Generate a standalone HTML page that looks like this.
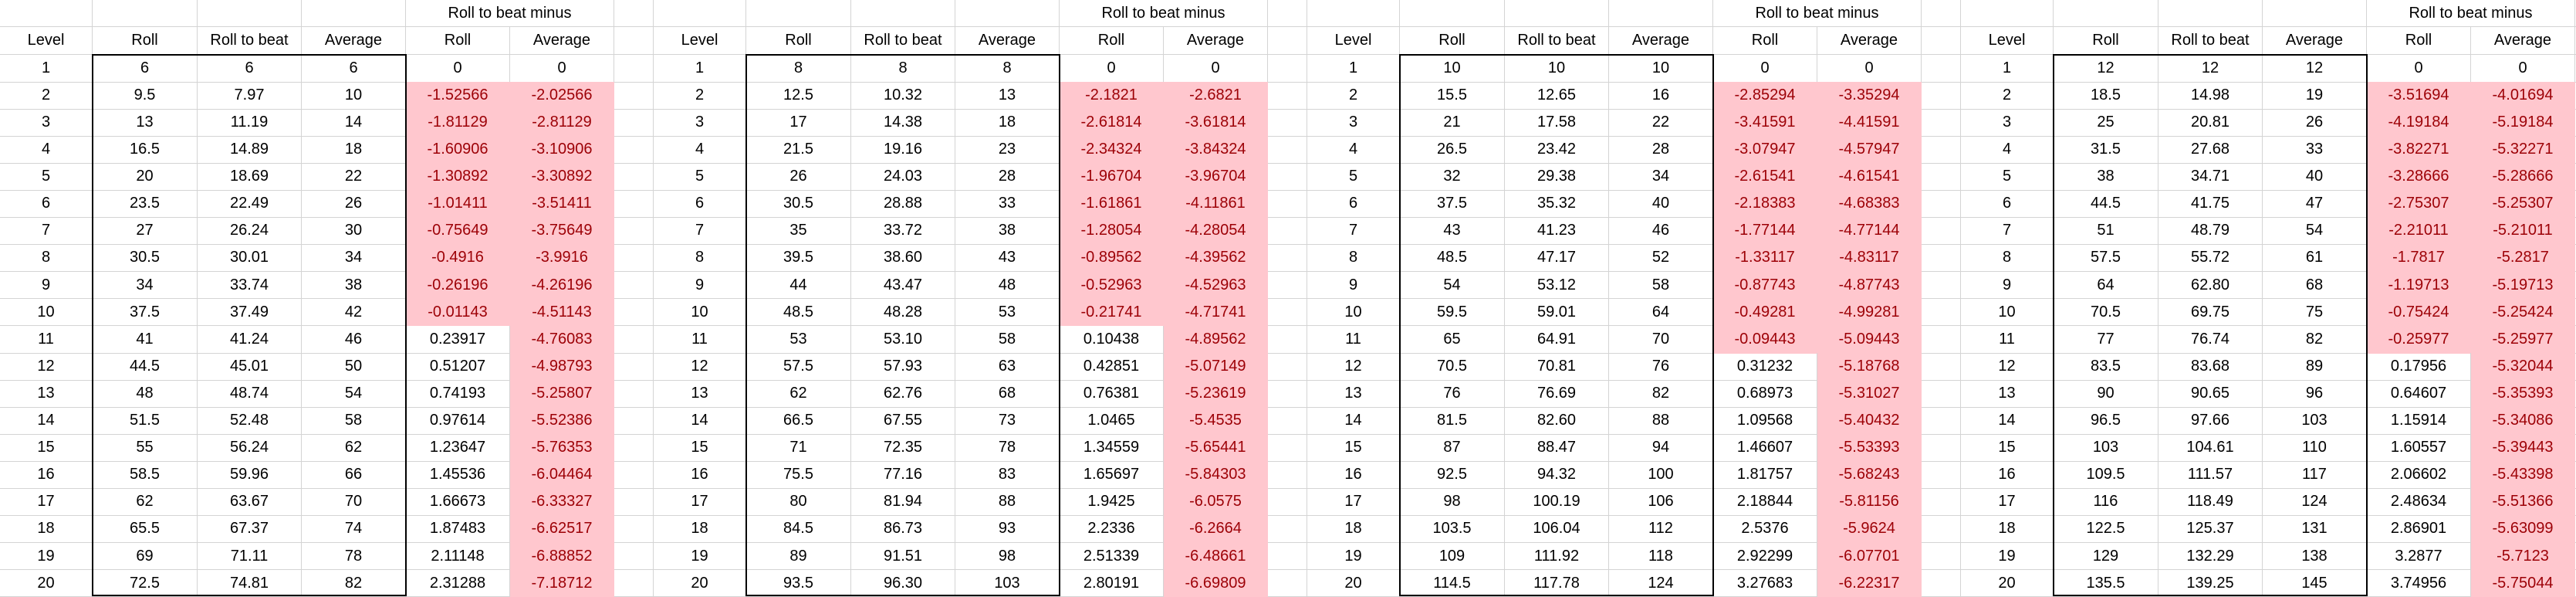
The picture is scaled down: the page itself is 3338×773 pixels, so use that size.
<!DOCTYPE html>
<html><head><meta charset="utf-8">
<style>
html,body{margin:0;padding:0;background:#fff;}
#sheet{position:relative;width:3338px;height:773px;overflow:hidden;font-family:"Liberation Sans",Arial,sans-serif;font-size:20px;color:#000;}
.c{position:absolute;box-sizing:border-box;display:flex;align-items:center;justify-content:center;border-right:1px solid #d4d4d4;border-bottom:1px solid #d4d4d4;white-space:nowrap;}
.neg{background:#ffc7ce;color:#9c0006;border-color:#ffc7ce;}
.box{position:absolute;box-sizing:border-box;border:2px solid #000;}
</style></head>
<body>
<div id="sheet"></div>
<script>
const levels=[1,2,3,4,5,6,7,8,9,10,11,12,13,14,15,16,17,18,19,20];
const roll1=[6,9.5,13,16.5,20,23.5,27,30.5,34,37.5,41,44.5,48,51.5,55,58.5,62,65.5,69,72.5];
const rtb1=["6","7.97","11.19","14.89","18.69","22.49","26.24","30.01","33.74","37.49","41.24","45.01","48.74","52.48","56.24","59.96","63.67","67.37","71.11","74.81"];
const avg1=[6,10,14,18,22,26,30,34,38,42,46,50,54,58,62,66,70,74,78,82];
const mroll1=[0,-1.52566,-1.81129,-1.60906,-1.30892,-1.01411,-0.75649,-0.4916,-0.26196,-0.01143,0.23917,0.51207,0.74193,0.97614,1.23647,1.45536,1.66673,1.87483,2.11148,2.31288];
const mavg1=[0,-2.02566,-2.81129,-3.10906,-3.30892,-3.51411,-3.75649,-3.9916,-4.26196,-4.51143,-4.76083,-4.98793,-5.25807,-5.52386,-5.76353,-6.04464,-6.33327,-6.62517,-6.88852,-7.18712];
const roll2=[8,12.5,17,21.5,26,30.5,35,39.5,44,48.5,53,57.5,62,66.5,71,75.5,80,84.5,89,93.5];
const rtb2=["8","10.32","14.38","19.16","24.03","28.88","33.72","38.60","43.47","48.28","53.10","57.93","62.76","67.55","72.35","77.16","81.94","86.73","91.51","96.30"];
const avg2=[8,13,18,23,28,33,38,43,48,53,58,63,68,73,78,83,88,93,98,103];
const mroll2=[0,-2.1821,-2.61814,-2.34324,-1.96704,-1.61861,-1.28054,-0.89562,-0.52963,-0.21741,0.10438,0.42851,0.76381,1.0465,1.34559,1.65697,1.9425,2.2336,2.51339,2.80191];
const mavg2=[0,-2.6821,-3.61814,-3.84324,-3.96704,-4.11861,-4.28054,-4.39562,-4.52963,-4.71741,-4.89562,-5.07149,-5.23619,-5.4535,-5.65441,-5.84303,-6.0575,-6.2664,-6.48661,-6.69809];
const roll3=[10,15.5,21,26.5,32,37.5,43,48.5,54,59.5,65,70.5,76,81.5,87,92.5,98,103.5,109,114.5];
const rtb3=["10","12.65","17.58","23.42","29.38","35.32","41.23","47.17","53.12","59.01","64.91","70.81","76.69","82.60","88.47","94.32","100.19","106.04","111.92","117.78"];
const avg3=[10,16,22,28,34,40,46,52,58,64,70,76,82,88,94,100,106,112,118,124];
const mroll3=[0,-2.85294,-3.41591,-3.07947,-2.61541,-2.18383,-1.77144,-1.33117,-0.87743,-0.49281,-0.09443,0.31232,0.68973,1.09568,1.46607,1.81757,2.18844,2.5376,2.92299,3.27683];
const mavg3=[0,-3.35294,-4.41591,-4.57947,-4.61541,-4.68383,-4.77144,-4.83117,-4.87743,-4.99281,-5.09443,-5.18768,-5.31027,-5.40432,-5.53393,-5.68243,-5.81156,-5.9624,-6.07701,-6.22317];
const roll4=[12,18.5,25,31.5,38,44.5,51,57.5,64,70.5,77,83.5,90,96.5,103,109.5,116,122.5,129,135.5];
const rtb4=["12","14.98","20.81","27.68","34.71","41.75","48.79","55.72","62.80","69.75","76.74","83.68","90.65","97.66","104.61","111.57","118.49","125.37","132.29","139.25"];
const avg4=[12,19,26,33,40,47,54,61,68,75,82,89,96,103,110,117,124,131,138,145];
const mroll4=[0,-3.51694,-4.19184,-3.82271,-3.28666,-2.75307,-2.21011,-1.7817,-1.19713,-0.75424,-0.25977,0.17956,0.64607,1.15914,1.60557,2.06602,2.48634,2.86901,3.2877,3.74956];
const mavg4=[0,-4.01694,-5.19184,-5.32271,-5.28666,-5.25307,-5.21011,-5.2817,-5.19713,-5.25424,-5.25977,-5.32044,-5.35393,-5.34086,-5.39443,-5.43398,-5.51366,-5.63099,-5.7123,-5.75044];
const blocks=[[roll1,rtb1,avg1,mroll1,mavg1],[roll2,rtb2,avg2,mroll2,mavg2],[roll3,rtb3,avg3,mroll3,mavg3],[roll4,rtb4,avg4,mroll4,mavg4]];
const headers=["Level","Roll","Roll to beat","Average","Roll","Average",""];

const sheet=document.getElementById('sheet');
const colX=[0,120,256,391,526,661,796,847];
const PERIOD=847, ROWH=35.1, TOP=71;
function cell(x,y,w,h,text,name,neg){
  const d=document.createElement('div');
  d.className='c'+(neg?' neg':'');
  d.style.left=x+'px';d.style.top=y+'px';d.style.width=w+'px';d.style.height=h+'px';
  d.textContent=text;
  
  
  sheet.appendChild(d);
}
blocks.forEach((blk,b)=>{
  const bx=b*PERIOD;
  for(let c=0;c<7;c++){
    if(c===4){cell(bx+colX[4],0,colX[6]-colX[4],35,"Roll to beat minus","header-roll-to-beat-minus",false);c++;continue;}
    cell(bx+colX[c],0,colX[c+1]-colX[c],35,"","header-empty",false);
  }
  for(let c=0;c<7;c++){
    cell(bx+colX[c],35,colX[c+1]-colX[c],36,headers[c],"header-"+(headers[c]||"empty").toLowerCase().replace(/ /g,'-'),false);
  }
  for(let r=0;r<levels.length;r++){
    const y=TOP+r*ROWH;
    const vals=[String(levels[r]),String(blk[0][r]),blk[1][r],String(blk[2][r]),String(blk[3][r]),String(blk[4][r]),""];
    const names=["level-cell","roll-cell","roll-to-beat-cell","average-cell","minus-roll-cell","minus-average-cell","empty-cell"];
    for(let c=0;c<7;c++){
      const neg=(c===4||c===5)&&blk[c-1][r]<0;
      cell(bx+colX[c],y,colX[c+1]-colX[c],ROWH+0.5,vals[c],names[c],neg);
    }
  }
  const box=document.createElement('div');
  box.className='box';
  box.style.left=(bx+colX[1]-1)+'px';box.style.top=(TOP-1)+'px';
  box.style.width=(colX[4]-colX[1]+2)+'px';box.style.height=(773-TOP)+'px';
  
  
  sheet.appendChild(box);
});
</script>
</body></html>
